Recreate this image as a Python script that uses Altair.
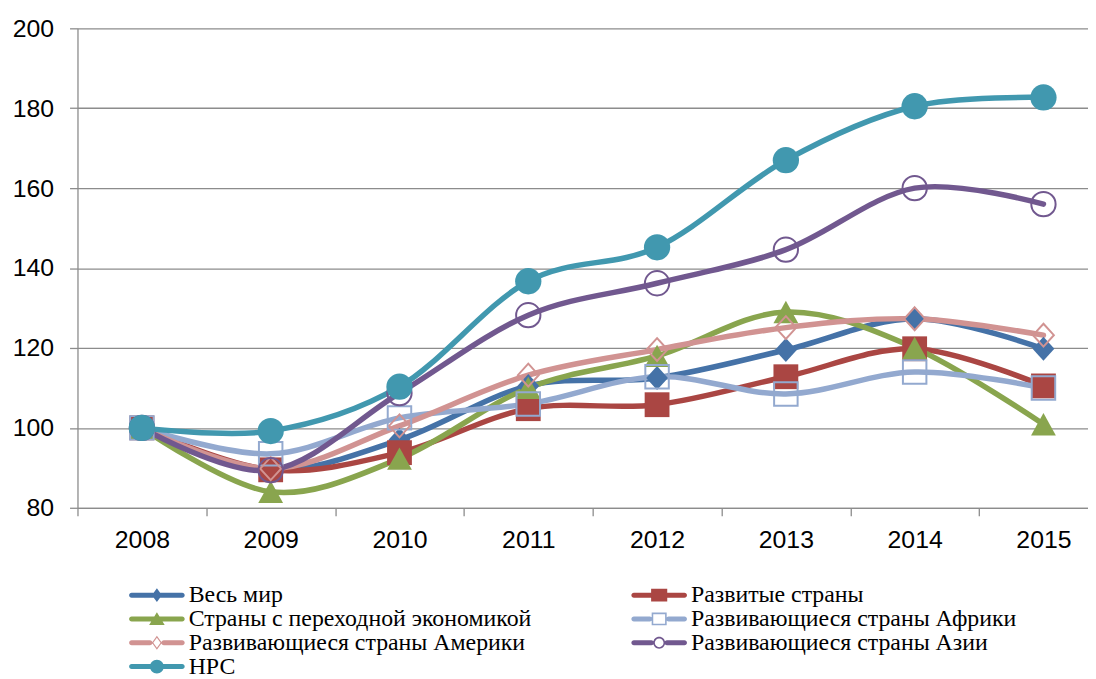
import altair as alt
import pandas as pd

years = ["2008", "2009", "2010", "2011", "2012", "2013", "2014", "2015"]
series_names = [
    "Весь мир",
    "Развитые страны",
    "Страны с переходной экономикой",
    "Развивающиеся страны Африки",
    "Развивающиеся страны Америки",
    "Развивающиеся страны Азии",
    "НРС",
]
world = [100, 89.5, 97.0, 110.5, 112.5, 119.5, 127.3, 119.8]
developed = [100, 89.5, 93.8, 104.8, 105.8, 112.8, 119.8, 110.5]
transition = [100, 84.0, 92.3, 110.0, 118.0, 129.0, 120.0, 100.9]
africa = [100, 93.5, 102.5, 106.0, 112.8, 108.5, 114.0, 110.0]
america = [100, 89.8, 100.5, 113.2, 119.6, 125.1, 127.3, 123.2]
asia = [100, 89.4, 108.7, 128.2, 136.2, 144.6, 160.0, 156.0]
ldc = [100, 99.2, 110.3, 136.7, 145.2, 167.0, 180.5, 182.7]
y_ticks = [80, 100, 120, 140, 160, 180, 200]

all_values = [world, developed, transition, africa, america, asia, ldc]
colors = ["#4572A7", "#AA4643", "#89A54E", "#93A9CF", "#D19392", "#71588F", "#4198AF"]

rows = []
for name, vals in zip(series_names, all_values):
    for yr, v in zip(years, vals):
        rows.append({"year": yr, "value": v, "series": name})
df = pd.DataFrame(rows)

# marker styles for the plot
diamond = "M0,-1.1L1,0L0,1.1L-1,0Z"
triangle = "M0,-0.9L1,0.9L-1,0.9Z"
markers = [
    dict(shape=diamond, size=484, filled=True),
    dict(shape="square", size=625, filled=True),
    dict(shape=triangle, size=625, filled=True),
    dict(shape="square", size=560, filled=False),
    dict(shape=diamond, size=440, filled=False),
    dict(shape="circle", size=600, filled=False),
    dict(shape="circle", size=700, filled=True),
]

# legend symbols: line with a marker in the middle.
# Symbol unit is 8px (symbolSize 256); the drawn line spans 56px.
S = 3.5
T = 0.09


def n(v):
    return f"{round(v * S, 4)}"


def bar(x0, x1):
    return (f"M{n(x0 + T)},{n(-T)}L{n(x1 - T)},{n(-T)}A{n(T)},{n(T)} 0 0 1 {n(x1 - T)},{n(T)}"
            f"L{n(x0 + T)},{n(T)}A{n(T)},{n(T)} 0 0 1 {n(x0 + T)},{n(-T)}Z")


def poly(pts):
    return "M" + "L".join(f"{n(x)},{n(y)}" for x, y in pts) + "Z"


def ring_circle(r, sweep):
    return f"M{n(-r)},0A{n(r)},{n(r)} 0 1 {sweep} {n(r)},0A{n(r)},{n(r)} 0 1 {sweep} {n(-r)},0Z"


legend_paths = [
    bar(-1, 1) + poly([(0, -0.25), (0.18, 0), (0, 0.25), (-0.18, 0)]),
    bar(-1, 1) + poly([(-0.29, -0.23), (0.29, -0.23), (0.29, 0.23), (-0.29, 0.23)]),
    bar(-1, 1) + poly([(0, -0.24), (0.28, 0.22), (-0.28, 0.22)]),
    bar(-1, -0.25) + bar(0.25, 1)
    + poly([(-0.27, -0.23), (0.27, -0.23), (0.27, 0.23), (-0.27, 0.23)])
    + poly([(-0.213, -0.173), (-0.213, 0.173), (0.213, 0.173), (0.213, -0.173)]),
    bar(-1, -0.16) + bar(0.16, 1)
    + poly([(0, -0.25), (0.18, 0), (0, 0.25), (-0.18, 0)])
    + poly([(0, -0.18), (-0.13, 0), (0, 0.18), (0.13, 0)]),
    bar(-1, -0.19) + bar(0.19, 1) + ring_circle(0.214, 1) + ring_circle(0.157, 0),
    bar(-1, 1) + ring_circle(0.25, 1),
]

GRID = "#8c8c8c"

x_enc = alt.X(
    "year:O",
    title=None,
    sort=years,
    scale=alt.Scale(type="band", domain=years, range=[0, 1038], paddingInner=0, paddingOuter=0),
    axis=alt.Axis(
        labelAngle=0, tickBand="extent", grid=False, domainColor=GRID, tickColor=GRID,
        tickSize=8, domainWidth=1.3, tickWidth=1.3, labelFont="Liberation Sans",
        labelFontSize=25, labelColor="black", labelPadding=12,
    ),
)
y_enc = alt.Y(
    "value:Q",
    title=None,
    scale=alt.Scale(domain=[80, 200], nice=False, zero=False),
    axis=alt.Axis(
        values=y_ticks, grid=True, gridColor=GRID, gridWidth=1.3, domainColor=GRID,
        tickColor=GRID, tickSize=8, domainWidth=1.3, tickWidth=1.3,
        labelFont="Liberation Sans", labelFontSize=25, labelColor="black", labelPadding=16,
    ),
)

base = alt.Chart(df)

line_layers = []
point_layers = []
for name, col, mk in zip(series_names, colors, markers):
    sub = base.transform_filter(alt.datum.series == name)
    line_layers.append(
        sub.mark_line(interpolate="cardinal", strokeWidth=5.5, strokeCap="round", color=col)
        .encode(x=x_enc, y=y_enc)
    )
    if mk["filled"]:
        pt = sub.mark_point(shape=mk["shape"], size=mk["size"], filled=True, color=col,
                            opacity=1, strokeWidth=0)
    else:
        pt = sub.mark_point(shape=mk["shape"], size=mk["size"], filled=False, color=col,
                            opacity=1, strokeWidth=2)
    point_layers.append(pt.encode(x=x_enc, y=y_enc))

legend_def = alt.Legend(
    orient="none", direction="horizontal", legendX=68, legendY=559, columns=2, title=None,
    labelFont="Liberation Serif", labelFontSize=24, labelColor="black", labelLimit=0,
    labelOffset=20, symbolSize=256, symbolStrokeWidth=0, symbolOpacity=1,
    rowPadding=0, columnPadding=100, padding=0,
)

legend_layer = (
    base.transform_filter(alt.datum.year == "2008")
    .mark_point(filled=True, opacity=0, size=256)
    .encode(
        x=x_enc,
        y=y_enc,
        color=alt.Color("series:N", sort=series_names,
                        scale=alt.Scale(domain=series_names, range=colors), legend=legend_def),
        shape=alt.Shape("series:N", sort=series_names,
                        scale=alt.Scale(domain=series_names, range=legend_paths), legend=legend_def),
    )
)

chart = (
    alt.layer(legend_layer, *line_layers, *point_layers)
    .properties(
        width=1018,
        height=483,
        autosize=alt.AutoSizeParams(type="none"),
        padding={"left": 70, "top": 18, "right": 0, "bottom": 170},
        background="white",
    )
    .configure_view(strokeWidth=0)
)

chart.save("out.html", embed_options={"renderer": "svg", "actions": False})
